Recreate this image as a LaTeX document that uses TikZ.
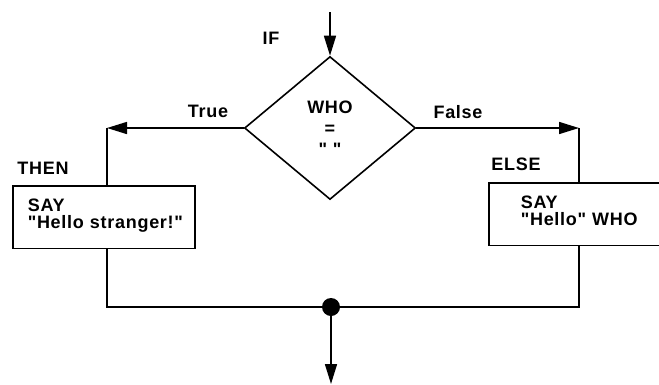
\documentclass[tikz,border=0pt]{standalone}
\usepackage{fontspec}
\setmainfont{Liberation Sans}[Ligatures=TeXOff,LetterSpace=4]
\usetikzlibrary{shapes.geometric,arrows.meta}

\begin{document}
\begin{tikzpicture}
  [x=1pt,y=-1pt,line width=1.6pt,
   every node/.style={font=\bfseries\fontsize{18}{17}\selectfont},
   flow/.style={-{Triangle[length=20pt,width=12pt]}},
   saybox/.style={draw,anchor=north west,align=left,inner xsep=15pt,inner ysep=13pt}]
  \useasboundingbox (0,0) rectangle (659,384);

  \node[diamond,draw,minimum width=171pt,minimum height=143pt,inner sep=0pt,
        align=center,font=\bfseries\fontsize{18}{21}\selectfont] (who) at (330,128) {WHO\\=\\" "};
  \node (if) at (271,38) {IF};
  \node (true) at (208,111) {True};
  \node (false) at (458,112) {False};
  \node (then) at (43,168) {THEN};
  \node (else) at (516,164) {ELSE};

  \node[saybox,text width=152pt] (sayl) at (12,185) {SAY\\"Hello~stranger!"\rule[-7pt]{0pt}{0pt}};
  \node[saybox,text width=180pt,inner xsep=32pt] (sayr) at (488,182) {SAY\\"Hello" WHO\rule[-7pt]{0pt}{0pt}};

  \coordinate (in) at (330,12);
  \coordinate (tl) at (107,128);
  \coordinate (tr) at (579,128);
  \coordinate (join) at (331,307);
  \coordinate (out) at (331,384);

  % branches
  \draw[flow] (in) -- (who.north);
  \draw[flow] (who.west) -- (tl);
  \draw[flow] (who.east) -- (tr);
  \draw (tl) -- (tl |- sayl.north);
  \draw (tr) -- (tr |- sayr.north);

  % merge
  \draw (tl |- sayl.south) |- (join) -| (tr |- sayr.south);
  \node[circle,fill,inner sep=0pt,minimum size=18pt] (dot) at (join) {};
  \draw[flow] (dot.center) -- (out);
\end{tikzpicture}
\end{document}
